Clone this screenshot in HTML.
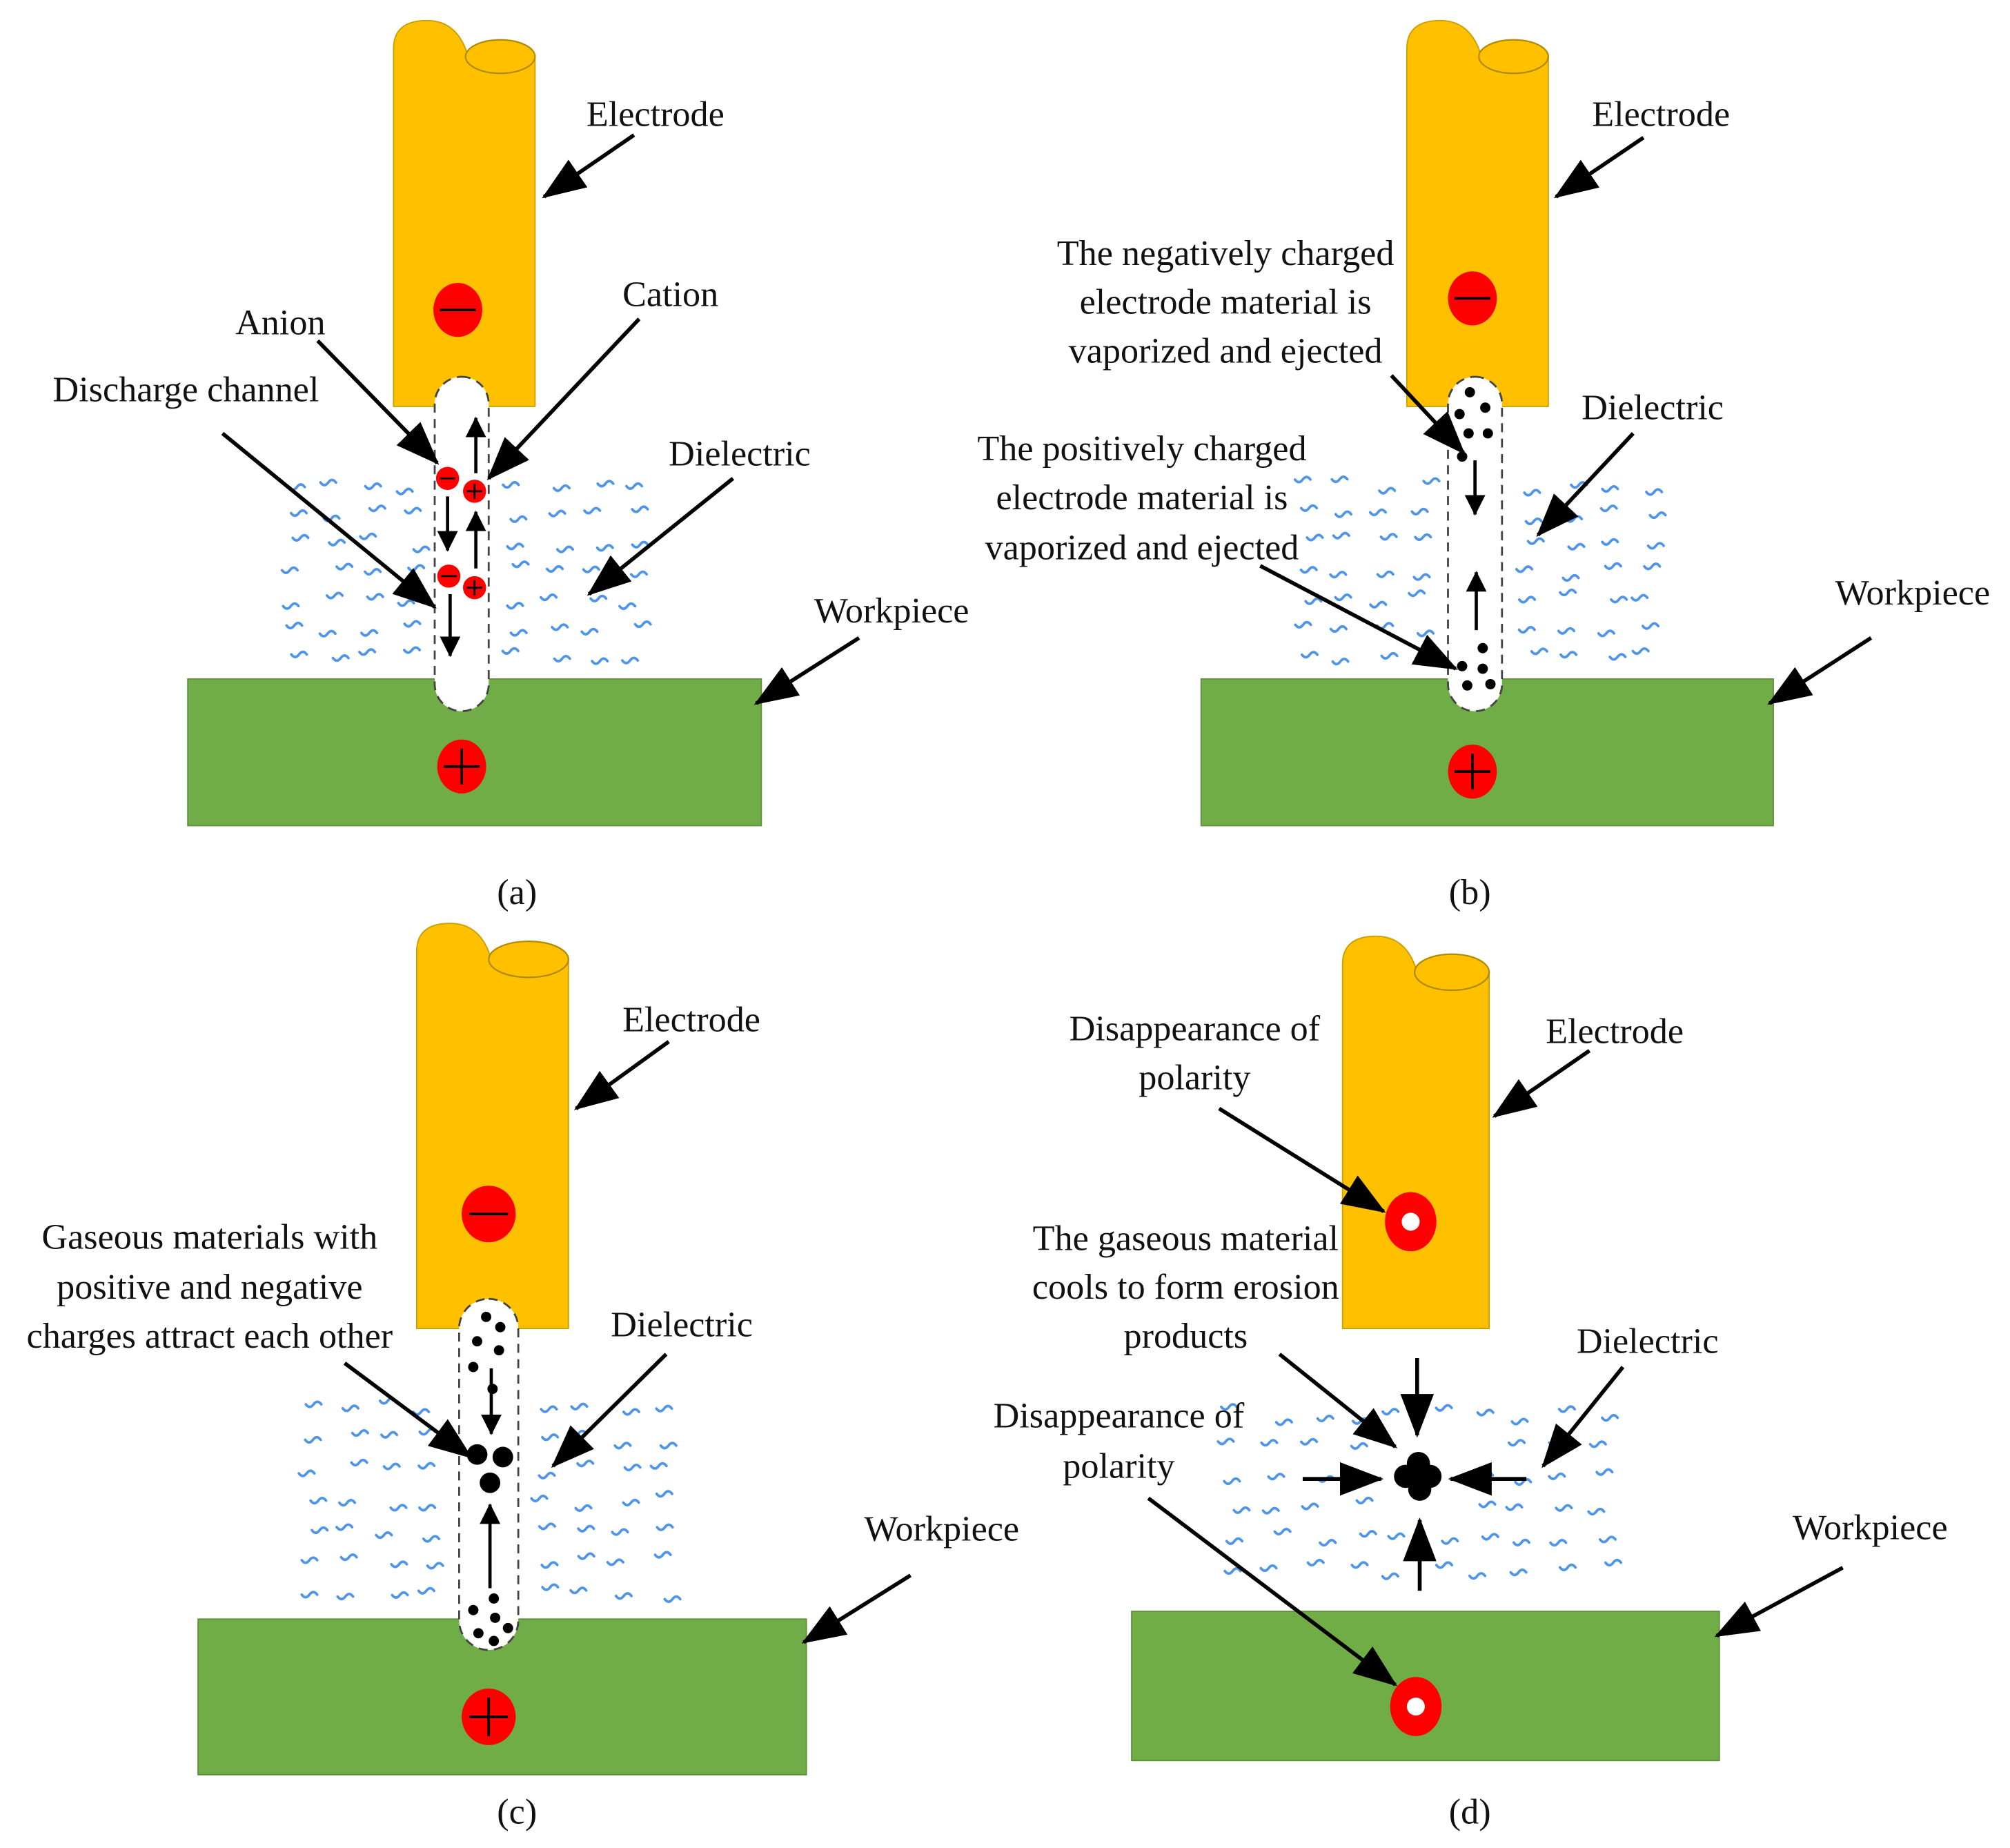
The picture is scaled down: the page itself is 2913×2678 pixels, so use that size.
<!DOCTYPE html>
<html><head><meta charset="utf-8"><style>
html,body{margin:0;padding:0;background:#fff}
svg{display:block}
text{font-family:"Liberation Serif","Times New Roman",Times,serif;font-size:28px;fill:#111}
</style></head><body>
<svg id="s" width="2913" height="2678" viewBox="0 0 1563 1437" xmlns="http://www.w3.org/2000/svg" font-family="Liberation Serif, serif">
<defs>
<marker id="ah" markerUnits="userSpaceOnUse" markerWidth="34" markerHeight="26" refX="32" refY="13" orient="auto"><path d="M0,0 L34,13 L0,26 Z" fill="#000"/></marker>
<marker id="sh" markerUnits="userSpaceOnUse" markerWidth="16" markerHeight="16" refX="15" refY="8" orient="auto"><path d="M0,0 L16,8 L0,16 Z" fill="#000"/></marker>
</defs>
<g id="waves" fill="none" stroke="#4d94ea" stroke-width="2" stroke-linecap="round"></g>

<!-- Panel a -->
<g>
<path d="M306,316 L306,38 Q306,16 332,16 Q356,16 364,44 L416,44 L416,316 Z" fill="#ffc000" stroke="#c9a000" stroke-width="1"/>
<ellipse cx="389" cy="44" rx="27" ry="13" fill="#ffc000" stroke="#b08a00" stroke-width="1.2"/>
<rect x="146" y="528" width="446" height="114" fill="#70ad47" stroke="#5f8f3d"/>
<rect x="338" y="293" width="42" height="260" rx="21" fill="#fff" stroke="#444" stroke-width="1.5" stroke-dasharray="7,5"/>
<ellipse cx="356" cy="241" rx="19" ry="21" fill="#f00"/><path d="M342,241 H370" stroke="#000" stroke-width="2"/>
<ellipse cx="359" cy="596" rx="19" ry="21" fill="#f00"/><path d="M345,596 H373 M359,582 V610" stroke="#000" stroke-width="2"/>
<circle cx="348" cy="372" r="9" fill="#f00"/><path d="M342,372 H354" stroke="#000" stroke-width="1.5"/>
<circle cx="369" cy="382" r="9" fill="#f00"/><path d="M363,382 H375 M369,376 V388" stroke="#000" stroke-width="1.5"/>
<circle cx="349" cy="448" r="9" fill="#f00"/><path d="M343,448 H355" stroke="#000" stroke-width="1.5"/>
<circle cx="369" cy="457" r="9" fill="#f00"/><path d="M363,457 H375 M369,451 V463" stroke="#000" stroke-width="1.5"/>
<g stroke="#000" stroke-width="2.5" marker-end="url(#sh)">
<path d="M370,368 V325"/><path d="M348,386 V428"/><path d="M370,442 V398"/><path d="M350,462 V510"/>
</g>
<text x="456" y="98">Electrode</text>
<text x="183" y="260">Anion</text>
<text x="484" y="238">Cation</text>
<text x="41" y="312">Discharge channel</text>
<text x="520" y="362">Dielectric</text>
<text x="633" y="484">Workpiece</text>
<text x="402" y="703" text-anchor="middle">(a)</text>
<g stroke="#000" stroke-width="3" marker-end="url(#ah)">
<path d="M493,105 L423,153"/><path d="M247,265 L340,360"/><path d="M497,248 L380,372"/>
<path d="M173,337 L338,472"/><path d="M570,372 L458,462"/><path d="M668,496 L588,547"/>
</g>
</g>

<!-- Panel b -->
<g>
<path d="M1094,316 L1094,38 Q1094,16 1120,16 Q1144,16 1152,44 L1204,44 L1204,316 Z" fill="#ffc000" stroke="#c9a000"/>
<ellipse cx="1177" cy="44" rx="27" ry="13" fill="#ffc000" stroke="#b08a00" stroke-width="1.2"/>
<rect x="934" y="528" width="445" height="114" fill="#70ad47" stroke="#5f8f3d"/>
<rect x="1126" y="293" width="42" height="260" rx="21" fill="#fff" stroke="#444" stroke-width="1.5" stroke-dasharray="7,5"/>
<ellipse cx="1145" cy="232" rx="19" ry="21" fill="#f00"/><path d="M1131,232 H1159" stroke="#000" stroke-width="2"/>
<ellipse cx="1145" cy="600" rx="19" ry="21" fill="#f00"/><path d="M1131,600 H1159 M1145,586 V614" stroke="#000" stroke-width="2"/>
<g fill="#000">
<circle cx="1143" cy="305" r="4"/><circle cx="1155" cy="317" r="4"/><circle cx="1135" cy="322" r="4"/><circle cx="1142" cy="337" r="4"/><circle cx="1157" cy="337" r="4"/><circle cx="1137" cy="355" r="4"/>
<circle cx="1153" cy="504" r="4"/><circle cx="1137" cy="518" r="4"/><circle cx="1153" cy="520" r="4"/><circle cx="1141" cy="533" r="4"/><circle cx="1159" cy="532" r="4"/>
</g>
<g stroke="#000" stroke-width="2.5" marker-end="url(#sh)"><path d="M1147,358 V400"/><path d="M1148,490 V445"/></g>
<text x="1238" y="98">Electrode</text>
<text x="953" y="206" text-anchor="middle">The negatively charged</text>
<text x="953" y="244" text-anchor="middle">electrode material is</text>
<text x="953" y="282" text-anchor="middle">vaporized and ejected</text>
<text x="1230" y="326">Dielectric</text>
<text x="888" y="358" text-anchor="middle">The positively charged</text>
<text x="888" y="396" text-anchor="middle">electrode material is</text>
<text x="888" y="435" text-anchor="middle">vaporized and ejected</text>
<text x="1427" y="470">Workpiece</text>
<text x="1143" y="703" text-anchor="middle">(b)</text>
<g stroke="#000" stroke-width="3" marker-end="url(#ah)">
<path d="M1278,107 L1210,153"/><path d="M1082,292 L1138,352"/><path d="M1270,337 L1196,416"/>
<path d="M980,440 L1132,520"/><path d="M1455,496 L1376,547"/>
</g>
</g>

<!-- Panel c -->
<g>
<path d="M324,1033 L324,740 Q324,718 350,718 Q374,718 382,746 L442,746 L442,1033 Z" fill="#ffc000" stroke="#c9a000"/>
<ellipse cx="411" cy="746" rx="31" ry="14" fill="#ffc000" stroke="#b08a00" stroke-width="1.2"/>
<rect x="154" y="1259" width="473" height="121" fill="#70ad47" stroke="#5f8f3d"/>
<rect x="357" y="1010" width="46" height="273" rx="23" fill="#fff" stroke="#444" stroke-width="1.5" stroke-dasharray="7,5"/>
<ellipse cx="380" cy="944" rx="21" ry="22" fill="#f00"/><path d="M365,944 H395" stroke="#000" stroke-width="2"/>
<ellipse cx="380" cy="1335" rx="21" ry="22" fill="#f00"/><path d="M365,1335 H395 M380,1320 V1350" stroke="#000" stroke-width="2"/>
<g fill="#000">
<circle cx="378" cy="1024" r="4"/><circle cx="389" cy="1032" r="4"/><circle cx="371" cy="1043" r="4"/><circle cx="388" cy="1050" r="4"/><circle cx="368" cy="1063" r="4"/><circle cx="383" cy="1080" r="4"/>
<circle cx="371" cy="1131" r="8"/><circle cx="391" cy="1133" r="8"/><circle cx="381" cy="1153" r="8"/>
<circle cx="384" cy="1243" r="4"/><circle cx="368" cy="1252" r="4"/><circle cx="385" cy="1258" r="4"/><circle cx="372" cy="1270" r="4"/><circle cx="395" cy="1266" r="4"/><circle cx="384" cy="1276" r="4"/>
</g>
<g stroke="#000" stroke-width="2.5" marker-end="url(#sh)"><path d="M382,1064 V1115"/><path d="M381,1235 V1170"/></g>
<text x="484" y="802">Electrode</text>
<text x="163" y="971" text-anchor="middle">Gaseous materials with</text>
<text x="163" y="1010" text-anchor="middle">positive and negative</text>
<text x="163" y="1048" text-anchor="middle">charges attract each other</text>
<text x="475" y="1039">Dielectric</text>
<text x="672" y="1198">Workpiece</text>
<text x="402" y="1418" text-anchor="middle">(c)</text>
<g stroke="#000" stroke-width="3" marker-end="url(#ah)">
<path d="M520,810 L448,862"/><path d="M268,1060 L366,1133"/><path d="M518,1053 L430,1140"/><path d="M708,1225 L625,1277"/>
</g>
</g>

<!-- Panel d -->
<g>
<path d="M1044,1033 L1044,750 Q1044,728 1070,728 Q1094,728 1102,756 L1158,756 L1158,1033 Z" fill="#ffc000" stroke="#c9a000"/>
<ellipse cx="1129" cy="756" rx="29" ry="14" fill="#ffc000" stroke="#b08a00" stroke-width="1.2"/>
<rect x="880" y="1253" width="457" height="116" fill="#70ad47" stroke="#5f8f3d"/>
<ellipse cx="1097" cy="950" rx="20" ry="23" fill="#f00"/><circle cx="1097" cy="950" r="7" fill="#fff"/>
<ellipse cx="1101" cy="1327" rx="20" ry="23" fill="#f00"/><circle cx="1101" cy="1327" r="7" fill="#fff"/>
<g fill="#000"><circle cx="1093" cy="1148" r="9"/><circle cx="1103" cy="1138" r="9"/><circle cx="1112" cy="1148" r="9"/><circle cx="1104" cy="1158" r="9"/><circle cx="1100" cy="1148" r="9"/></g>
<g stroke="#000" stroke-width="3" marker-end="url(#ah)">
<path d="M1102,1056 L1102,1116"/><path d="M1104,1237 L1104,1182"/><path d="M1013,1150 L1074,1150"/><path d="M1187,1150 L1128,1150"/>
</g>
<text x="929" y="809" text-anchor="middle">Disappearance of</text>
<text x="929" y="847" text-anchor="middle">polarity</text>
<text x="1202" y="811">Electrode</text>
<text x="922" y="972" text-anchor="middle">The gaseous material</text>
<text x="922" y="1010" text-anchor="middle">cools to form erosion</text>
<text x="922" y="1048" text-anchor="middle">products</text>
<text x="1226" y="1052">Dielectric</text>
<text x="870" y="1110" text-anchor="middle">Disappearance of</text>
<text x="870" y="1149" text-anchor="middle">polarity</text>
<text x="1394" y="1197">Workpiece</text>
<text x="1143" y="1418" text-anchor="middle">(d)</text>
<g stroke="#000" stroke-width="3" marker-end="url(#ah)">
<path d="M948,862 L1076,942"/><path d="M1236,817 L1162,868"/><path d="M995,1053 L1085,1125"/>
<path d="M1262,1063 L1200,1140"/><path d="M893,1165 L1085,1310"/><path d="M1433,1219 L1335,1272"/>
</g>
</g>
</svg>
<script>
(function(){
var g=document.getElementById('waves');var seed=7;
function r(){seed=(seed*9301+49297)%233280;return seed/233280;}
function add(x,y){var p=document.createElementNS('http://www.w3.org/2000/svg','path');
  p.setAttribute('d','M'+x.toFixed(1)+','+y.toFixed(1)+' q3,4 6,0 t6,0');g.appendChild(p);}
function region(x0,x1,y0,y1,dx,dy,ex){
 for(var y=y0;y<=y1;y+=dy){for(var x=x0;x<=x1;x+=dx){
  var xx=x+(r()-0.5)*dx*0.5, yy=y+(r()-0.5)*dy*0.5;
  if(ex&&xx>ex[0]&&xx<ex[1]&&yy>ex[2]&&yy<ex[3])continue;
  add(xx,yy);}}
}
region(225,315,378,515,30,22);region(398,505,378,515,30,22);
region(1012,1105,378,515,30,22);region(1186,1295,378,515,30,22);
region(238,335,1095,1245,30,24);region(420,535,1095,1245,30,24);
region(955,1250,1100,1238,32,24,[1065,1145,1110,1190]);
})();
</script>
</body></html>
